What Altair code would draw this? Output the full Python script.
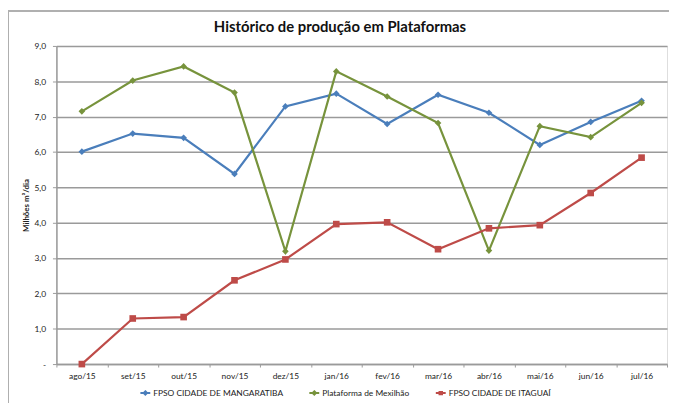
import altair as alt
import pandas as pd

months = ["ago/15", "set/15", "out/15", "nov/15", "dez/15", "jan/16",
          "fev/16", "mar/16", "abr/16", "mai/16", "jun/16", "jul/16"]
series = ["FPSO CIDADE DE MANGARATIBA", "Plataforma de Mexilhão", "FPSO CIDADE DE ITAGUAÍ"]
mangaratiba = [6.01, 6.52, 6.40, 5.38, 7.29, 7.65, 6.79, 7.62, 7.11, 6.20, 6.85, 7.45]
mexilhao = [7.15, 8.02, 8.42, 7.68, 3.19, 8.28, 7.57, 6.82, 3.21, 6.73, 6.42, 7.39]
itaguai = [0.0, 1.29, 1.33, 2.37, 2.96, 3.96, 4.01, 3.25, 3.84, 3.93, 4.84, 5.84]
colors = ["#4a7ebb", "#77933c", "#be4b48"]
legend_shapes = [
    "M-1,0H1M0,-0.33L0.33,0L0,0.33L-0.33,0Z",
    "M-1,0H1M0,-0.33L0.33,0L0,0.33L-0.33,0Z",
    "M-1,0H1M-0.25,-0.25H0.25V0.25H-0.25Z",
]

rows = []
for name, vals in zip(series, [mangaratiba, mexilhao, itaguai]):
    for m, v in zip(months, vals):
        rows.append({"mes": m, "serie": name, "valor": v})
df = pd.DataFrame(rows)

FONT = "Lato"

x = alt.X("mes:N", sort=months, title=None,
          scale=alt.Scale(paddingInner=0, paddingOuter=0),
          axis=alt.Axis(labelAngle=0, tickBand="extent", domainColor="#9a9a9a",
                        domainWidth=1.5, tickColor="#9a9a9a", tickSize=3,
                        labelFontSize=8.5, labelColor="#222", labelPadding=5,
                        labelFont=FONT))
y = alt.Y("valor:Q", title="Milhões m³/dia",
          scale=alt.Scale(domain=[0, 9], nice=False),
          axis=alt.Axis(values=list(range(10)),
                        labelExpr="datum.value == 0 ? '-' : replace(format(datum.value, '.1f'), '.', ',')",
                        grid=True, gridColor="#9a9a9a", gridWidth=1.5,
                        domainColor="#9a9a9a", domainWidth=1.5,
                        tickColor="#9a9a9a", tickSize=4, labelPadding=7,
                        labelFontSize=8.5, labelColor="#222", labelFont=FONT,
                        titleFontSize=8, titleFontWeight="bold", titleColor="#222",
                        titleFont=FONT, titlePadding=3))

leg = alt.Legend(title=None, orient="none", direction="horizontal",
                 legendX=84, legendY=345, symbolSize=100, symbolStrokeWidth=2,
                 symbolOpacity=1,
                 labelFontSize=8.5, labelFont=FONT, labelColor="#222",
                 columnPadding=22, symbolOffset=0, labelOffset=2)
cscale = alt.Scale(domain=series, range=colors)
color = alt.Color("serie:N", sort=series, scale=cscale, legend=leg)

legend_layer = alt.Chart(df).mark_point(filled=False).encode(
    x=x, y=y, color=color,
    shape=alt.Shape("serie:N", sort=series,
                    scale=alt.Scale(domain=series, range=legend_shapes), legend=leg),
).transform_filter("false")

lines = alt.Chart(df).mark_line(strokeWidth=2.2).encode(x=x, y=y, color=color)
diamonds = alt.Chart(df).mark_point(filled=True, opacity=1, size=45, shape="diamond").encode(
    x=x, y=y, color=color).transform_filter(alt.FieldOneOfPredicate(field="serie", oneOf=series[:2]))
squares = alt.Chart(df).mark_point(filled=True, opacity=1, size=45, shape="square").encode(
    x=x, y=y, color=color).transform_filter(alt.FieldEqualPredicate(field="serie", equal=series[2]))

frame = alt.Chart(df).mark_rule(color="#b0b0b0", strokeWidth=1.5).encode(
    x=alt.value(-49), y=alt.value(-35), y2=alt.value(400))
frame_top = alt.Chart(df).mark_rule(color="#b0b0b0", strokeWidth=1.5).encode(
    x=alt.value(-49), x2=alt.value(640), y=alt.value(-35))

chart = alt.layer(legend_layer, frame, frame_top, lines, diamonds, squares).properties(
    width=618, height=322,
    title=alt.TitleParams("Histórico de produção em Plataformas", fontSize=15,
                          font=FONT, fontWeight="bold", color="#111", offset=12, dx=-22,
                          dy=37, frame="group"),
    autosize=alt.AutoSizeParams(type="none"),
    padding={"left": 49, "top": 36, "right": 2, "bottom": 37},
).configure_view(stroke=None).configure(background="white")

chart.save("out.html", embed_options={"renderer": "svg", "actions": False})
